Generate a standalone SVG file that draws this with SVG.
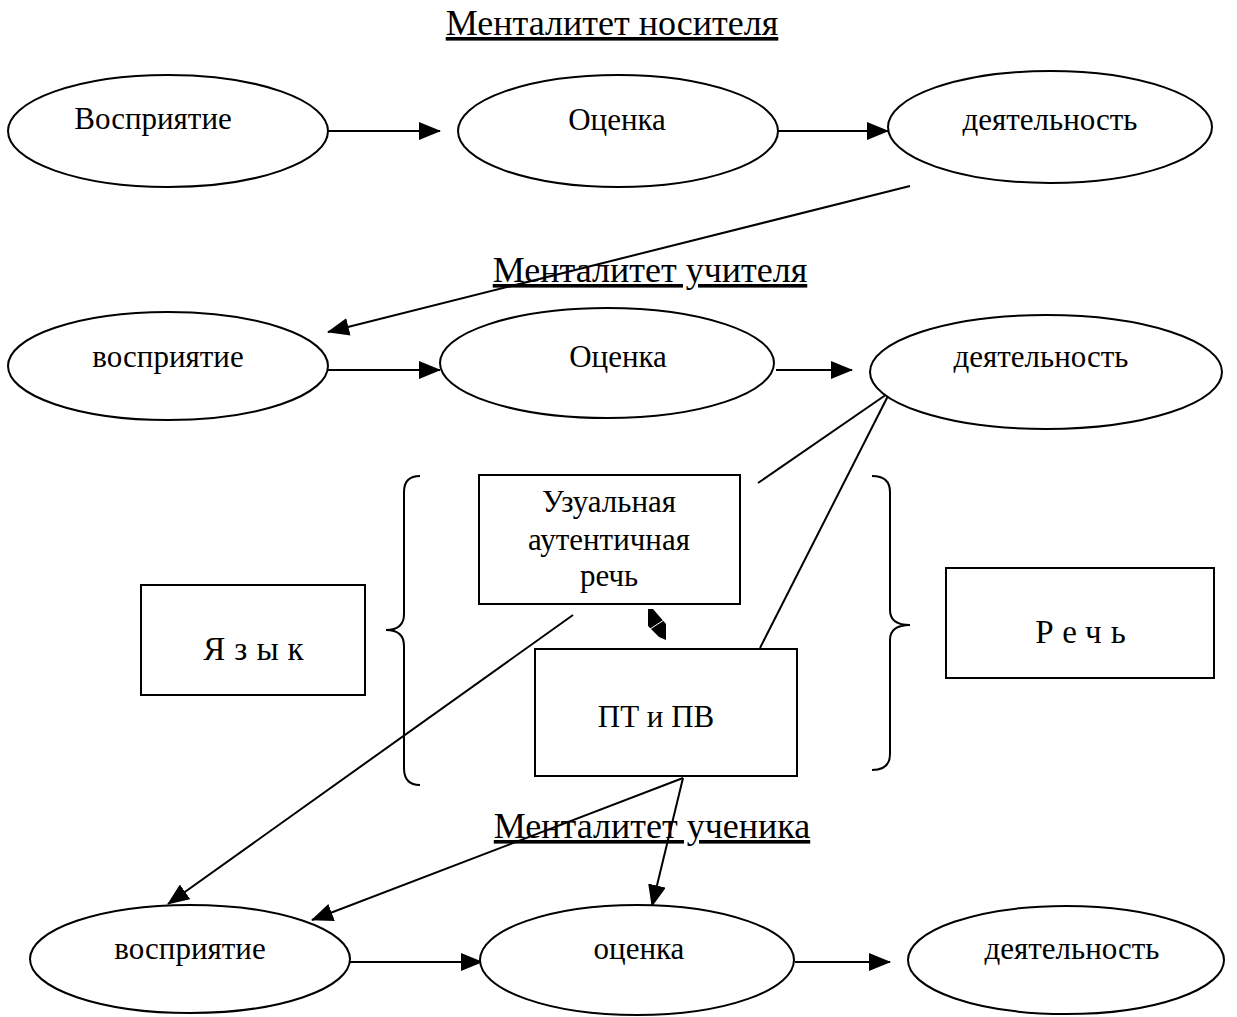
<svg xmlns="http://www.w3.org/2000/svg" width="1237" height="1017" viewBox="0 0 1237 1017">
  <defs>
    <marker id="arrow" markerUnits="userSpaceOnUse" markerWidth="22" markerHeight="18" refX="21" refY="9" orient="auto">
      <path d="M0,0 L22,9 L0,18 z" fill="#000"/>
    </marker>
    <style>
      .node ellipse, .node rect { fill: #fff; stroke: #000; stroke-width: 2; }
      .lbl { font-family: "Liberation Serif", "Times New Roman", serif; font-size: 31px; fill: #000; text-anchor: middle; }
      .title { font-family: "Liberation Serif", "Times New Roman", serif; font-size: 36px; fill: #000; text-anchor: middle; text-decoration: underline; }
      .wide { font-size: 33px; letter-spacing: 9px; }
      .edge { stroke: #000; stroke-width: 2; fill: none; }
      .arr { marker-end: url(#arrow); }
      .brace { stroke: #000; stroke-width: 2; fill: none; }
    </style>
  </defs>

  <rect width="1237" height="1017" fill="#fff"/>

  <!-- section headings -->
  <text class="title" x="612" y="35">Менталитет носителя</text>
  <text class="title" x="650" y="282">Менталитет учителя</text>

  <!-- braces around the central blocks -->
  <path class="brace" d="M420,476 Q404,476 404,492 L404,614 Q404,630 386,630 Q404,630 404,646 L404,768 Q404,785 420,785"/>
  <path class="brace" d="M872,476 Q890,476 890,492 L890,610 Q890,625 910,625 Q890,625 890,640 L890,754 Q890,770 872,770"/>

  <!-- connectors -->
  <g id="connectors">
    <line class="edge arr" x1="328" y1="131" x2="440" y2="131"/>
    <line class="edge arr" x1="778" y1="131" x2="888" y2="131"/>
    <line class="edge arr" x1="910" y1="186" x2="328" y2="332"/>
    <line class="edge arr" x1="328" y1="370" x2="440" y2="370"/>
    <line class="edge arr" x1="776" y1="370" x2="852" y2="370"/>
    <line class="edge" x1="890" y1="392" x2="758" y2="483"/>
    <line class="edge" x1="890" y1="392" x2="760" y2="648"/>
    <line class="edge arr" x1="573" y1="615" x2="168" y2="904"/>
    <line class="edge arr" x1="683" y1="778" x2="312" y2="920"/>
    <line class="edge arr" x1="683" y1="778" x2="652" y2="906"/>
    <line class="edge arr" x1="350" y1="962" x2="482" y2="962"/>
    <line class="edge arr" x1="795" y1="962" x2="890" y2="962"/>
    <!-- small two-way head between the two central boxes -->
    <polygon points="648,609 653,609 666,624 666,640 659,637 648,626" fill="#000"/>
    <line x1="650" y1="629" x2="664" y2="620" stroke="#fff" stroke-width="1"/>
  </g>

  <!-- row 1 -->
  <g id="n-vospr1" class="node">
    <ellipse cx="168" cy="131" rx="160" ry="56"/>
    <text class="lbl" x="153" y="129">Восприятие</text>
  </g>
  <g id="n-ocenka1" class="node">
    <ellipse cx="618" cy="131" rx="160" ry="56"/>
    <text class="lbl" x="617" y="130">Оценка</text>
  </g>
  <g id="n-deyat1" class="node">
    <ellipse cx="1050" cy="127" rx="162" ry="56"/>
    <text class="lbl" x="1050" y="130">деятельность</text>
  </g>

  <!-- row 2 -->
  <g id="n-vospr2" class="node">
    <ellipse cx="168" cy="366" rx="160" ry="54"/>
    <text class="lbl" x="168" y="367">восприятие</text>
  </g>
  <g id="n-ocenka2" class="node">
    <ellipse cx="607" cy="363" rx="167" ry="55"/>
    <text class="lbl" x="618" y="367">Оценка</text>
  </g>
  <g id="n-deyat2" class="node">
    <ellipse cx="1046" cy="372" rx="176" ry="57"/>
    <text class="lbl" x="1041" y="367">деятельность</text>
  </g>

  <!-- central blocks -->
  <g id="n-uzual" class="node">
    <rect x="479" y="475" width="261" height="129"/>
    <text class="lbl" x="609" y="512">Узуальная</text>
    <text class="lbl" x="609" y="550">аутентичная</text>
    <text class="lbl" x="609" y="586">речь</text>
  </g>
  <g id="n-ptpv" class="node">
    <rect x="535" y="649" width="262" height="127"/>
    <text class="lbl" x="656" y="727">ПТ и ПВ</text>
  </g>
  <g id="n-yazyk" class="node">
    <rect x="141" y="585" width="224" height="110"/>
    <text class="lbl wide" x="258" y="660">Язык</text>
  </g>
  <g id="n-rech" class="node">
    <rect x="946" y="568" width="268" height="110"/>
    <text class="lbl wide" x="1085" y="643">Речь</text>
  </g>

  <text class="title" x="652" y="838">Менталитет ученика</text>

  <!-- row 3 -->
  <g id="n-vospr3" class="node">
    <ellipse cx="190" cy="959" rx="160" ry="54"/>
    <text class="lbl" x="190" y="959">восприятие</text>
  </g>
  <g id="n-ocenka3" class="node">
    <ellipse cx="637" cy="960" rx="157" ry="55"/>
    <text class="lbl" x="639" y="959">оценка</text>
  </g>
  <g id="n-deyat3" class="node">
    <ellipse cx="1066" cy="960" rx="158" ry="54"/>
    <text class="lbl" x="1072" y="959">деятельность</text>
  </g>
</svg>
